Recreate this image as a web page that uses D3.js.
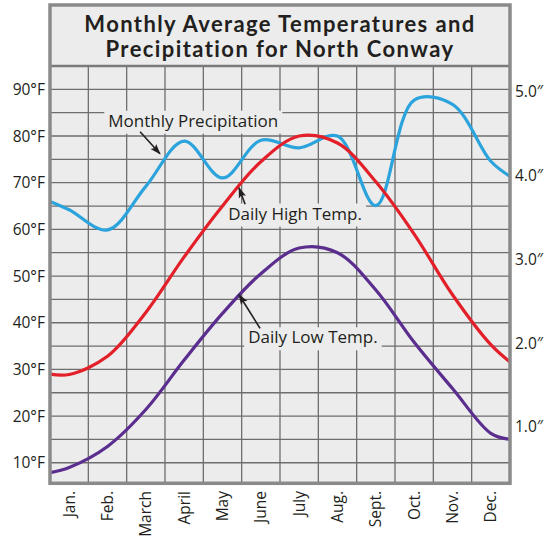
<!DOCTYPE html>
<html><head><meta charset="utf-8">
<script src="https://cdn.jsdelivr.net/npm/d3@7"></script>
<style>
body{margin:0;background:#fff}
text{font-family:"Open Sans",sans-serif;fill:#231f20}
</style>
</head><body>
<svg id="chart" width="552" height="539"></svg>
<script>
// ---------- data ----------
const months = ["Jan.","Feb.","March","April","May","June","July","Aug.","Sept.","Oct.","Nov.","Dec."];
// curve sample positions, in months from the start of January (edge, month centres, edge)
const samplePos = [0, 0.5, 1.5, 2.5, 3.5, 4.5, 5.5, 6.5, 7.5, 8.5, 9.5, 10.5, 11.5, 12];
const highTemp = [29.0, 28.9, 32.8, 42.2, 54.1, 65.0, 74.5, 80.0, 78.5, 70.2, 59.0, 46.0, 35.3, 31.6];
const lowTemp  = [7.9, 9.0, 13.5, 21.4, 32.0, 42.0, 50.5, 56.0, 55.0, 47.0, 35.8, 25.9, 16.3, 15.0];
const precip   = [3.69, 3.59, 3.35, 3.87, 4.41, 3.97, 4.42, 4.33, 4.47, 3.64, 4.90, 4.85, 4.17, 3.99];
const tempTicks = [10, 20, 30, 40, 50, 60, 70, 80, 90];
const tempGrid = [10, 15, 20, 25, 30, 35, 40, 45, 50, 55, 60, 65, 70, 75, 80, 85, 90];
const precipTicks = [1.0, 2.0, 3.0, 4.0, 5.0];
const titleLines = ["Monthly Average Temperatures and", "Precipitation for North Conway"];
// annotations: label anchor (month position, °F) and arrow from/to (month position, °F)
const notes = [
  {text:"Monthly Precipitation", x:1.52, t:82.0, from:[2.35, 80.9], to:[2.87, 76.2]},
  {text:"Daily High Temp.",      x:4.65, t:62.1, from:[5.09, 65.4], to:[4.93, 68.9]},
  {text:"Daily Low Temp.",       x:5.17, t:35.6, from:[5.48, 38.8], to:[4.93, 46.0]}
];

// ---------- layout ----------
const L = 50, R = 510, T = 66, B = 483.3, TOP = 5;
const bg = "#ebeceb", frame = "#8a8a8a", grid = "#6e6e6e";
const svg = d3.select("#chart");

const x = d3.scaleLinear().domain([0, 12]).range([L, R]);
const yT = d3.scaleLinear().domain([5.6, 95]).range([B, T]);
const yP = d3.scaleLinear().domain([0, 5]).range([510.5, 91.7]);

svg.append("rect").attr("x", L).attr("y", TOP).attr("width", R - L).attr("height", B - TOP).attr("fill", bg);

// grid
const g = svg.append("g");
g.selectAll("line.h").data(tempGrid).join("line")
  .attr("x1", L).attr("x2", R).attr("y1", d => yT(d)).attr("y2", d => yT(d))
  .attr("stroke", grid).attr("stroke-width", 1.3);
g.selectAll("line.v").data(d3.range(1, 12)).join("line")
  .attr("x1", d => x(d)).attr("x2", d => x(d)).attr("y1", T).attr("y2", B)
  .attr("stroke", grid).attr("stroke-width", 1.3);

// title
svg.append("line").attr("x1", L).attr("x2", R).attr("y1", T).attr("y2", T)
  .attr("stroke", "#7a7a7a").attr("stroke-width", 2.5);
const titleWidths = [390, 348];
svg.selectAll("text.title").data(titleLines).join("text").attr("class", "title")
  .attr("x", (L + R) / 2).attr("y", (d, i) => 32.3 + i * 24.4)
  .attr("text-anchor", "middle")
  .style("font-family", "Lato, sans-serif").attr("font-size", 22).attr("font-weight", 700)
  .text(d => d)
  .each(function(d, i) {
    const w = this.getComputedTextLength();
    const ls = (titleWidths[i] - w) / (d.length - 1);
    d3.select(this).attr("letter-spacing", ls.toFixed(2));
  });

// annotation boxes
const noteG = svg.append("g");
const nt = noteG.selectAll("g").data(notes).join("g");
nt.append("rect").attr("fill", bg);
const labels = nt.append("text")
  .attr("x", d => x(d.x)).attr("y", d => yT(d.t))
  .attr("font-size", 17).text(d => d.text);
labels.each(function(d) {
  const w = this.getComputedTextLength();
  d3.select(this.parentNode).select("rect")
    .attr("x", x(d.x) - 4).attr("y", yT(d.t) - 16)
    .attr("width", w + 8).attr("height", 23);
});

// lines
const line = yScale => d3.line().x((d, i) => x(samplePos[i])).y(d => yScale(d)).curve(d3.curveCatmullRom.alpha(0.5));
svg.append("path").datum(precip).attr("d", line(yP)).attr("fill", "none").attr("stroke", "#2ba3dc").attr("stroke-width", 3.2);
svg.append("path").datum(highTemp).attr("d", line(yT)).attr("fill", "none").attr("stroke", "#e3202a").attr("stroke-width", 3.2);
svg.append("path").datum(lowTemp).attr("d", line(yT)).attr("fill", "none").attr("stroke", "#5a2d8e").attr("stroke-width", 3.2);

// arrows
svg.append("defs").append("marker").attr("id", "ah")
  .attr("viewBox", "0 -5 12 10").attr("refX", 11).attr("refY", 0)
  .attr("markerUnits", "userSpaceOnUse").attr("markerWidth", 11).attr("markerHeight", 9)
  .attr("orient", "auto")
  .append("path").attr("d", "M0,-4.2L12,0L0,4.2L2.5,0Z").attr("fill", "#231f20");
svg.selectAll("line.arrow").data(notes).join("line")
  .attr("x1", d => x(d.from[0])).attr("y1", d => yT(d.from[1]))
  .attr("x2", d => x(d.to[0])).attr("y2", d => yT(d.to[1]))
  .attr("stroke", "#231f20").attr("stroke-width", 1.6).attr("marker-end", "url(#ah)");

// frame
svg.append("rect").attr("x", L).attr("y", TOP).attr("width", R - L).attr("height", B - TOP)
  .attr("fill", "none").attr("stroke", frame).attr("stroke-width", 3.5);

// left axis labels
svg.selectAll("text.lt").data(tempTicks).join("text")
  .attr("x", 45).attr("y", d => yT(d)).attr("dy", "0.36em")
  .attr("text-anchor", "end").attr("font-size", 15.5).text(d => d + "°F");
// right axis labels
svg.selectAll("text.rt").data(precipTicks).join("text")
  .attr("x", 515).attr("y", d => yP(d)).attr("dy", "0.36em")
  .attr("font-size", 15.5).text(d => d.toFixed(1) + "″");
// month labels
svg.selectAll("text.m").data(months).join("text")
  .attr("transform", (d, i) => `translate(${x(i + 0.5) + 5.5},491) rotate(-90)`)
  .attr("text-anchor", "end").attr("font-size", 15.5).text(d => d);
</script>
</body></html>
